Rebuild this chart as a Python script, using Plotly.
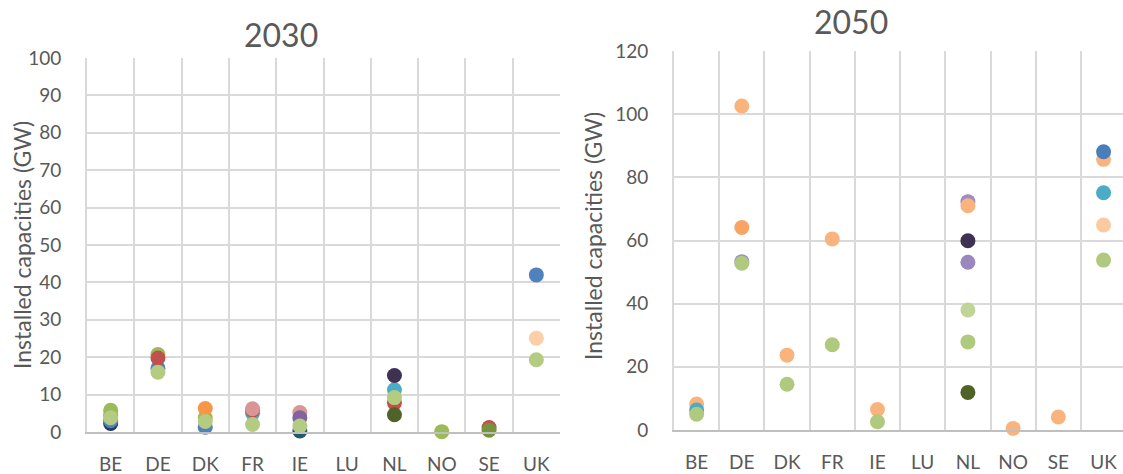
import plotly.graph_objects as go

W, H = 1123, 474

countries = ["BE", "DE", "DK", "FR", "IE", "LU", "NL", "NO", "SE", "UK"]
N = None

# Installed capacities (GW) per scenario, one value per country (None = not reported)
cap_2030 = {
    "navy":        ("#1F3864", [2.3, N, N, N, N, N, N, N, N, N]),
    "blue":        ("#4F81BD", [3.0, 17.0, 1.3, N, N, N, N, N, N, 42.0]),
    "aqua":        ("#4BACC6", [4.5, N, N, 5.0, N, N, 11.3, N, N, N]),
    "green":       ("#9BBB59", [5.8, 20.7, 3.8, N, N, N, N, 0.1, N, N]),
    "red":         ("#C0504D", [N, 19.8, N, 5.8, N, N, 7.8, N, 1.2, N]),
    "pink":        ("#D99694", [N, N, N, 6.2, 5.2, N, N, N, N, N]),
    "purple":      ("#8064A2", [N, N, N, N, 3.8, N, N, N, N, N]),
    "dark teal":   ("#215968", [N, N, N, N, 0.3, N, N, N, N, N]),
    "dark purple": ("#403152", [N, N, N, N, N, N, 15.1, N, N, N]),
    "dark green":  ("#4F6228", [N, N, N, N, N, N, 4.6, N, N, N]),
    "olive":       ("#77933C", [N, N, N, N, N, N, N, N, 0.5, N]),
    "orange":      ("#F79646", [N, N, 6.3, N, N, N, N, N, N, N]),
    "peach":       ("#FCCFA8", [N, N, N, N, N, N, N, N, N, 25.1]),
    "light green": ("#B3CC82", [3.8, 16.0, 2.8, 2.0, 1.6, N, 9.2, N, N, 19.3]),
}

cap_2050 = {
    "light purple":  ("#A18CC0", [N, 53.3, N, N, N, N, 72.3, N, N, N]),
    "purple":        ("#9B86BD", [N, N, N, N, N, N, 53.1, N, N, N]),
    "light orange":  ("#F9B47E", [8.2, 102.6, 23.7, 60.5, 6.5, N, 71.0, 0.5, 4.1, 85.7]),
    "orange":        ("#F7A465", [N, 64.1, N, N, N, N, N, N, N, N]),
    "aqua":          ("#4BACC6", [6.3, N, N, N, N, N, N, N, N, 75.1]),
    "blue":          ("#4A7EBB", [N, N, N, N, N, N, N, N, N, 88.1]),
    "peach":         ("#FBCAA0", [N, N, N, N, N, N, N, N, N, 64.9]),
    "dark purple":   ("#3F3151", [N, N, N, N, N, N, 59.9, N, N, N]),
    "dark green":    ("#4F6228", [N, N, N, N, N, N, 11.9, N, N, N]),
    "pale green":    ("#BED597", [N, N, N, N, N, N, 38.0, N, N, N]),
    "light green":   ("#AFC97E", [5.0, 52.8, 14.5, 27.0, 2.6, N, 27.9, N, N, 53.8]),
}

y_ticks_2030 = list(range(0, 101, 10))
y_ticks_2050 = list(range(0, 121, 20))

FONT = "Lato, 'Open Sans', sans-serif"
TXT = "#595959"
GRID = "#D9D9D9"
AXIS = "#BFBFBF"
MSIZE = 15

fig = go.Figure()

for xa, ya, data in (("x", "y", cap_2030), ("x2", "y2", cap_2050)):
    for name, (color, vals) in data.items():
        fig.add_trace(go.Scatter(
            x=countries, y=vals, mode="markers", name=name,
            xaxis=xa, yaxis=ya, cliponaxis=False, showlegend=False,
            marker=dict(size=MSIZE, color=color, line=dict(width=0)),
        ))


def px_x(v):
    return v / W


def px_y(v):
    return 1 - v / H


xcommon = dict(
    type="category", categoryorder="array", categoryarray=countries,
    range=[-0.5, 9.5], tickson="boundaries", ticks="",
    showgrid=True, gridcolor=GRID, gridwidth=2,
    showline=True, linecolor=AXIS, linewidth=2,
    tickfont=dict(family=FONT, size=19, color=TXT),
    ticklabelstandoff=14, zeroline=False, fixedrange=True, automargin=False,
)
ycommon = dict(
    showgrid=True, gridcolor=GRID, gridwidth=2,
    showline=True, linecolor=GRID, linewidth=2,
    ticks="", tickfont=dict(family=FONT, size=19, color=TXT),
    ticklabelstandoff=20, zeroline=False, fixedrange=True, automargin=False,
)

ann = dict(xref="paper", yref="paper", showarrow=False,
           xanchor="center", yanchor="middle")

fig.update_layout(
    width=W, height=H,
    margin=dict(l=0, r=0, t=0, b=0, pad=0, autoexpand=False),
    paper_bgcolor="white", plot_bgcolor="white",
    font=dict(family=FONT, color=TXT),
    xaxis=dict(xcommon, domain=[px_x(87), px_x(560)], anchor="y"),
    yaxis=dict(ycommon, domain=[px_y(432), px_y(58)], anchor="x",
               range=[0, 100], tickvals=y_ticks_2030),
    xaxis2=dict(xcommon, domain=[px_x(674), px_x(1123)], anchor="y2",
                range=[-0.5, 9.43]),
    yaxis2=dict(ycommon, domain=[px_y(430), px_y(51)], anchor="x2",
                range=[0, 120], tickvals=y_ticks_2050),
    annotations=[
        dict(ann, text="2030", x=px_x(281), y=px_y(35),
             font=dict(family=FONT, size=32, color=TXT)),
        dict(ann, text="2050", x=px_x(851), y=px_y(22),
             font=dict(family=FONT, size=32, color=TXT)),
        dict(ann, text="Installed capacities (GW)", x=px_x(22), y=px_y(245),
             textangle=-90, font=dict(family=FONT, size=23, color=TXT)),
        dict(ann, text="Installed capacities (GW)", x=px_x(593), y=px_y(236),
             textangle=-90, font=dict(family=FONT, size=23, color=TXT)),
    ],
)

fig.write_html("out.html")
